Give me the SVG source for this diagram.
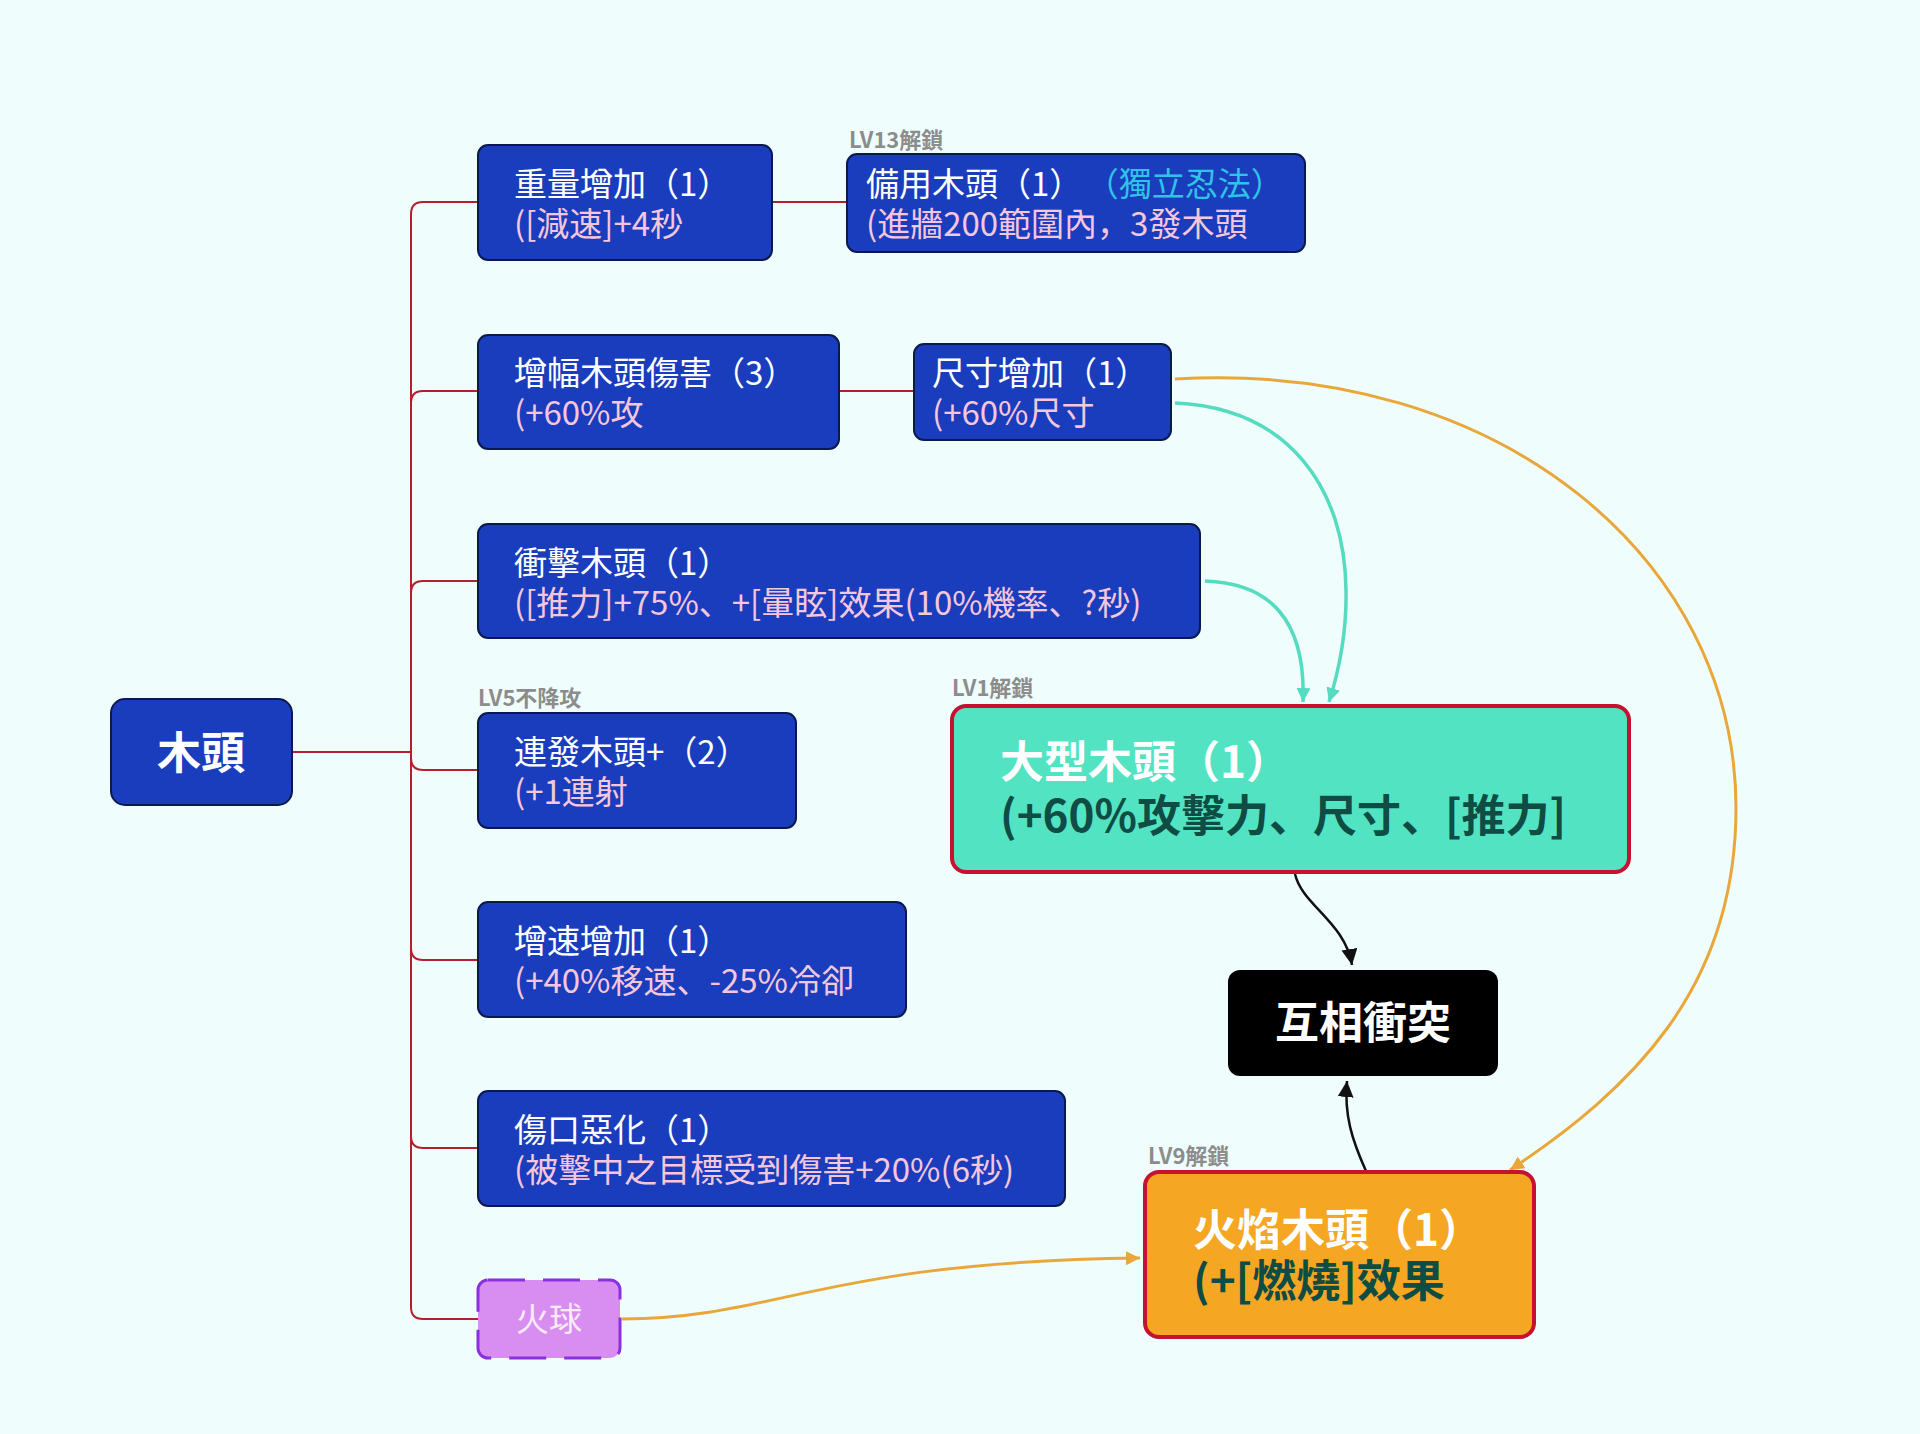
<svg xmlns="http://www.w3.org/2000/svg" width="1920" height="1434" viewBox="0 0 1920 1434">
<style>
.bn{fill:#1a3dbe;stroke:#0b1a4e;stroke-width:2}
.t{font-family:"Noto Sans CJK JP","Noto Sans CJK TC",sans-serif;font-size:33px}
.w{fill:#ffffff}
.p{fill:#f6c6dc}
.lab{font-family:"Noto Sans CJK JP","Noto Sans CJK TC",sans-serif;font-size:22px;font-weight:700;fill:#8c8c8c}
.big{font-family:"Noto Sans CJK JP","Noto Sans CJK TC",sans-serif;font-size:44px;font-weight:700}
.dk{fill:#0e4c44}
.tree{fill:none;stroke:#b3202c;stroke-width:2}
</style>
<defs>
<marker id="aT" markerUnits="userSpaceOnUse" markerWidth="16" markerHeight="16" refX="14" refY="7" orient="auto"><path d="M0,0 L14,7 L0,14 z" fill="#55dbbf"/></marker>
<marker id="aO" markerUnits="userSpaceOnUse" markerWidth="16" markerHeight="16" refX="14" refY="7" orient="auto"><path d="M0,0 L14,7 L0,14 z" fill="#e9a73a"/></marker>
<marker id="aK" markerUnits="userSpaceOnUse" markerWidth="18" markerHeight="18" refX="16" refY="8" orient="auto"><path d="M0,0 L16,8 L0,16 z" fill="#111111"/></marker>
</defs>
<rect width="1920" height="1434" fill="#effdfd"/>

<g id="connectors">
<path class="tree" d="M291,752 H411"/>
<path class="tree" d="M411,752 V214 Q411,202 423,202 H478"/>
<path class="tree" d="M411,752 V403 Q411,391 423,391 H478"/>
<path class="tree" d="M411,752 V593 Q411,581 423,581 H478"/>
<path class="tree" d="M411,752 V758 Q411,770 423,770 H478"/>
<path class="tree" d="M411,752 V948 Q411,960 423,960 H478"/>
<path class="tree" d="M411,752 V1136 Q411,1148 423,1148 H478"/>
<path class="tree" d="M411,752 V1307 Q411,1319 423,1319 H478"/>
<path class="tree" d="M772,202 H847"/>
<path class="tree" d="M839,391 H914"/>
<path d="M1175,379 C1500,360 1736,560 1736,808 C1736,990 1630,1090 1510,1170" fill="none" stroke="#e9a73a" stroke-width="3" marker-end="url(#aO)"/>
<path d="M1175,403 C1290,408 1345,490 1346,590 C1347,640 1336,680 1329,702" fill="none" stroke="#55dbbf" stroke-width="3.5" marker-end="url(#aT)"/>
<path d="M1205,581 C1270,583 1306,620 1303,702" fill="none" stroke="#55dbbf" stroke-width="3.5" marker-end="url(#aT)"/>
<path d="M1295,874 C1302,905 1345,922 1352,965" fill="none" stroke="#111111" stroke-width="2.5" marker-end="url(#aK)"/>
<path d="M1366,1171 C1352,1140 1344,1115 1347,1081" fill="none" stroke="#111111" stroke-width="2.5" marker-end="url(#aK)"/>
<path d="M622,1319 C780,1318 820,1262 1140,1258" fill="none" stroke="#e9a73a" stroke-width="3" marker-end="url(#aO)"/>
</g>

<g id="root">
<rect x="111" y="699" width="181" height="106" rx="14" class="bn"/>
<text x="201" y="769" class="big w" text-anchor="middle">木頭</text>
</g>

<g id="n-weight">
<rect x="478" y="145" width="294" height="115" rx="10" class="bn"/>
<text x="514" y="196" class="t w">重量增加（1）</text>
<text x="514" y="236" class="t p">([減速]+4秒</text>
</g>

<g id="n-spare">
<text x="849" y="148" class="lab">LV13解鎖</text>
<rect x="847" y="154" width="458" height="98" rx="10" class="bn"/>
<text x="866" y="196" class="t"><tspan class="w">備用木頭（1）</tspan><tspan fill="#2fc3e6" dx="20">（獨立忍法）</tspan></text>
<text x="866" y="236" class="t p">(進牆200範圍內，3發木頭</text>
</g>

<g id="n-dmg">
<rect x="478" y="335" width="361" height="114" rx="10" class="bn"/>
<text x="514" y="385" class="t w">增幅木頭傷害（3）</text>
<text x="514" y="425" class="t p">(+60%攻</text>
</g>

<g id="n-size">
<rect x="914" y="344" width="257" height="96" rx="10" class="bn"/>
<text x="932" y="385" class="t w">尺寸增加（1）</text>
<text x="932" y="425" class="t p">(+60%尺寸</text>
</g>

<g id="n-impact">
<rect x="478" y="524" width="722" height="114" rx="10" class="bn"/>
<text x="514" y="575" class="t w">衝擊木頭（1）</text>
<text x="514" y="615" class="t p">([推力]+75%、+[暈眩]效果(10%機率、?秒)</text>
</g>

<g id="n-multi">
<text x="478" y="706" class="lab">LV5不降攻</text>
<rect x="478" y="713" width="318" height="115" rx="10" class="bn"/>
<text x="514" y="764" class="t w">連發木頭+（2）</text>
<text x="514" y="804" class="t p">(+1連射</text>
</g>

<g id="n-speed">
<rect x="478" y="902" width="428" height="115" rx="10" class="bn"/>
<text x="514" y="953" class="t w">增速增加（1）</text>
<text x="514" y="993" class="t p">(+40%移速、-25%冷卻</text>
</g>

<g id="n-wound">
<rect x="478" y="1091" width="587" height="115" rx="10" class="bn"/>
<text x="514" y="1142" class="t w">傷口惡化（1）</text>
<text x="514" y="1182" class="t p">(被擊中之目標受到傷害+20%(6秒)</text>
</g>

<g id="n-fireball">
<rect x="478" y="1280" width="142" height="78" rx="10" fill="#d88ef1" stroke="#8b2fe0" stroke-width="3" stroke-dasharray="37 18"/>
<text x="549" y="1331" class="t" fill="#fbeaf8" text-anchor="middle">火球</text>
</g>

<g id="n-large">
<text x="952" y="696" class="lab">LV1解鎖</text>
<rect x="952" y="706" width="677" height="166" rx="14" fill="#52e3c2" stroke="#c41230" stroke-width="4"/>
<text x="1000" y="778" class="big w">大型木頭（1）</text>
<text x="1000" y="832" class="big dk">(+60%攻擊力、尺寸、[推力]</text>
</g>

<g id="n-conflict">
<rect x="1228" y="970" width="270" height="106" rx="12" fill="#000000"/>
<text x="1363" y="1039" class="big w" text-anchor="middle">互相衝突</text>
</g>

<g id="n-flame">
<text x="1148" y="1164" class="lab">LV9解鎖</text>
<rect x="1145" y="1172" width="389" height="165" rx="14" fill="#f5a623" stroke="#c41230" stroke-width="4"/>
<text x="1193" y="1246" class="big w">火焰木頭（1）</text>
<text x="1193" y="1297" class="big dk">(+[燃燒]效果</text>
</g>
</svg>
